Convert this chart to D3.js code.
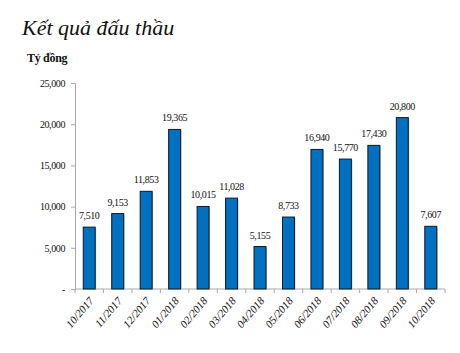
<!DOCTYPE html>
<html><head><meta charset="utf-8">
<script src="https://cdn.jsdelivr.net/npm/d3@7"></script>
<style>body{margin:0;background:#fff}svg{display:block}text{font-family:"Liberation Serif","Times New Roman",serif}</style>
</head><body><svg id="c" width="460" height="353"></svg>
<script>
const categories = ["10/2017","11/2017","12/2017","01/2018","02/2018","03/2018","04/2018","05/2018","06/2018","07/2018","08/2018","09/2018","10/2018"];
const values = [7510, 9153, 11853, 19365, 10015, 11028, 5155, 8733, 16940, 15770, 17430, 20800, 7607];
const yTicks = [0, 5000, 10000, 15000, 20000, 25000];
const title = "Kết quả đấu thầu";
const unit = "Tỷ đồng";

(function(){
const svg = d3.select("#c");
const mL = 75, mR = 445, mT = 83, mB = 289;
const x = d3.scaleBand().domain(categories).range([mL, mR]).paddingInner(0.58).paddingOuter(0.29);
const y = d3.scaleLinear().domain([0, 25000]).range([mB, mT]);
const fmt = d3.format(",");

svg.append("text").attr("x", 22).attr("y", 35).attr("font-size", 22).attr("font-style", "italic").attr("fill", "#111").text(title);
svg.append("text").attr("x", 27).attr("y", 62).attr("font-size", 12).attr("font-weight", "bold").attr("fill", "#111").attr("letter-spacing", "-0.3").text(unit);

const ya = svg.append("g").attr("transform", `translate(${mL},0)`)
  .call(d3.axisLeft(y).tickValues(yTicks).tickSize(4).tickFormat(d => d === 0 ? "-" : fmt(d)));
ya.select(".domain").attr("stroke", "#aaa");
ya.selectAll(".tick line").attr("stroke", "#aaa");
ya.selectAll(".tick text").attr("font-size", 10).attr("fill", "#111").attr("x", -10)
  .attr("font-family", "Liberation Serif").attr("letter-spacing", "-0.4");

svg.append("line").attr("x1", mL).attr("x2", mR).attr("y1", mB).attr("y2", mB).attr("stroke", "#aaa");
const bounds = categories.map((c, i) => mL + i * (mR - mL) / categories.length).concat([mR]);
svg.selectAll(".bt").data(bounds).join("line").attr("class","bt")
  .attr("x1", d => d).attr("x2", d => d).attr("y1", mB).attr("y2", mB + 4).attr("stroke", "#aaa");

svg.selectAll(".sh").data(values).join("rect").attr("class","sh")
  .attr("x", (d, i) => x(categories[i]) + 1).attr("y", d => y(d) + 1)
  .attr("width", x.bandwidth()).attr("height", d => mB - y(d) - 1).attr("fill", "#bbb");
svg.selectAll(".bar").data(values).join("rect").attr("class","bar")
  .attr("x", (d, i) => x(categories[i])).attr("y", d => y(d))
  .attr("width", x.bandwidth()).attr("height", d => mB - y(d))
  .attr("fill", "#0070C0").attr("stroke", "#0a1a2a").attr("stroke-width", 1);

svg.selectAll(".lbl").data(values).join("text").attr("class","lbl")
  .attr("x", (d, i) => x(categories[i]) + x.bandwidth() / 2).attr("y", d => y(d) - 8)
  .attr("text-anchor", "middle").attr("font-size", 10).attr("fill", "#111").attr("letter-spacing", "-0.4").text(d => fmt(d));

svg.selectAll(".xl").data(categories).join("text").attr("class","xl")
  .attr("transform", d => `translate(${x(d) + x.bandwidth() / 2 + 5},${mB + 12}) rotate(-50)`)
  .attr("text-anchor", "end").attr("font-size", 11).attr("font-style", "italic").attr("fill", "#111").text(d => d);
})();
</script></body></html>
